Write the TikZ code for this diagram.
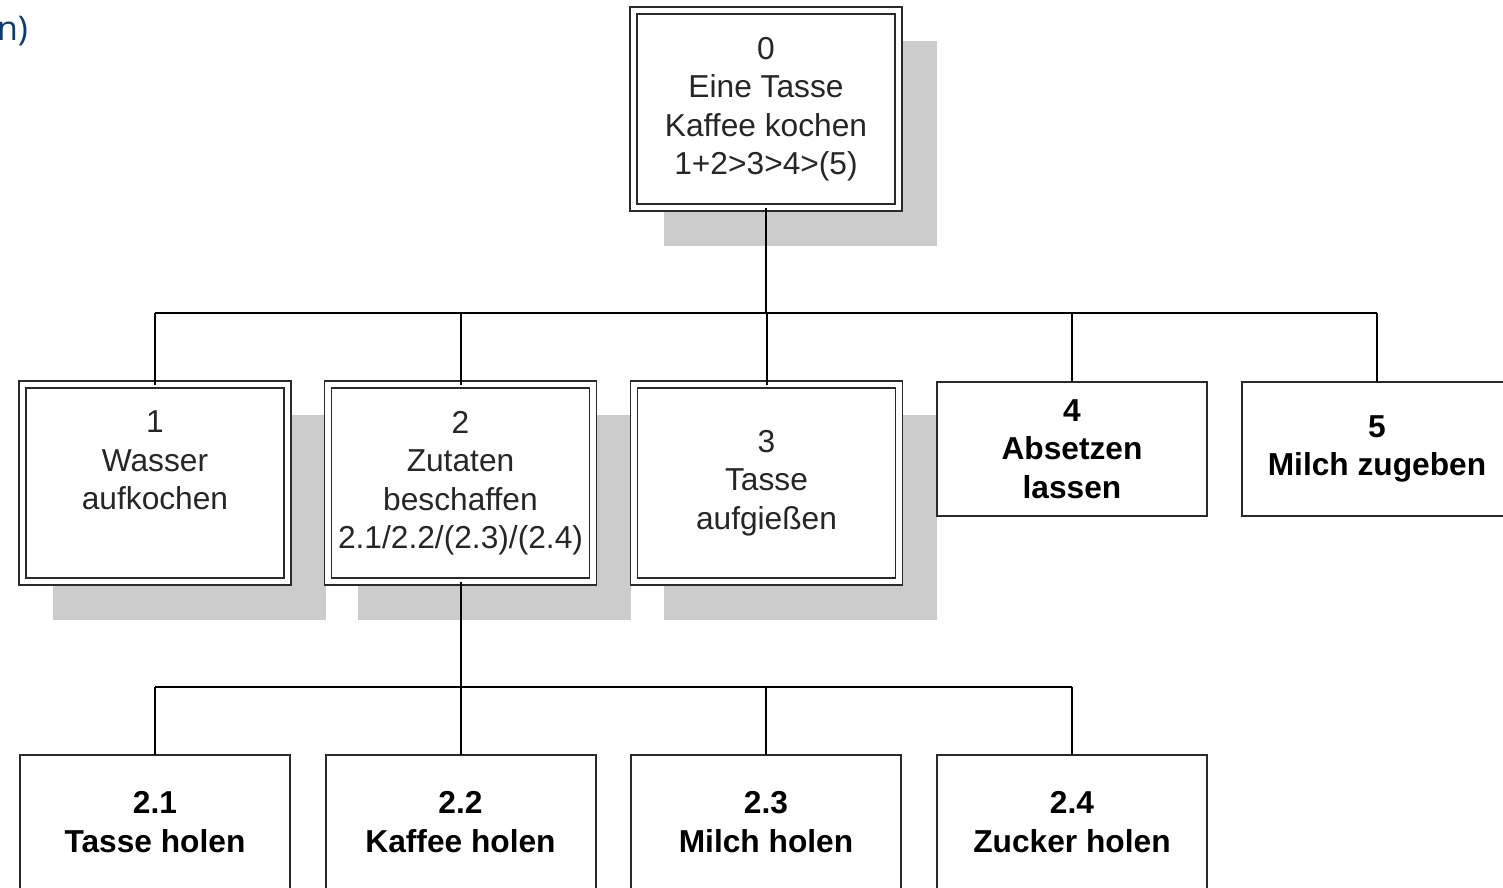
\documentclass[tikz,border=0pt]{standalone}
\usepackage{fontspec}
\setmainfont{Liberation Sans}
\newfontfamily\tagfont{Open Sans}
\usetikzlibrary{backgrounds,calc}
\definecolor{inkline}{HTML}{2A2A2A}
\definecolor{shadowgray}{HTML}{CCCCCC}
\definecolor{textgray}{HTML}{262626}
\definecolor{tagblue}{HTML}{0B3C6E}
\begin{document}
\begin{tikzpicture}[x=1pt,y=-1pt,
  every node/.style={font=\fontsize{31.7}{38.5}\selectfont, text=textgray,
    align=center, inner sep=0pt, outer sep=0pt},
  dbox/.style={draw=inkline, line width=1.8pt, double=white,
    double distance=5.2pt, fill=white,
    minimum width=265pt, minimum height=197pt},
  sbox/.style={draw=inkline, line width=2pt, fill=white,
    minimum width=270pt, minimum height=134pt,
    font=\fontsize{31.7}{38.5}\selectfont\bfseries, text=black},
  link/.style={draw=black, line width=2pt}]

\clip (0,0) rectangle (1503,887);

% caption fragment in the top left corner
\node[font=\tagfont\fontsize{34}{40}\selectfont, text=tagblue, anchor=east]
  (tag) at (28,31) {n)};

% root task
\node[dbox] (n0) at (766,109) {0\\Eine Tasse\\Kaffee kochen\\1+2>3>4>(5)};

% first level
\node[dbox] (n1) at (155,483)   {1\\Wasser\\aufkochen\\\vphantom{(}};
\node[dbox] (n2) at (460.5,483) {2\\Zutaten\\beschaffen\\2.1/2.2/(2.3)/(2.4)};
\node[dbox] (n3) at (766.5,483) {3\\Tasse\\aufgießen};
\node[sbox] (n4) at (1072,449)  {4\\Absetzen\\lassen};
\node[sbox] (n5) at (1377,449)  {5\\Milch zugeben};

% second level below task 2
\node[sbox] (m1) at (155,822)   {2.1\\Tasse holen};
\node[sbox] (m2) at (460.5,822) {2.2\\Kaffee holen};
\node[sbox] (m3) at (766,822)   {2.3\\Milch holen};
\node[sbox] (m4) at (1072,822)  {2.4\\Zucker holen};

% drop shadows behind the composite tasks
\begin{scope}[on background layer]
  \foreach \n in {n0,n1,n2,n3}
    \fill[shadowgray] ([shift={(30,30)}]\n.north west)
                      rectangle ([shift={(38,38)}]\n.south east);
\end{scope}

% connectors root -> first level
\coordinate (busA) at ($(n0.south)+(0,105.5)$);
\draw[link] (n0.south) -- (busA);
\draw[link] (busA -| n1.north) -- (busA -| n5.north);
\foreach \c in {n1,n2,n3,n4,n5}
  \draw[link] (busA -| \c.north) -- (\c.north);

% connectors task 2 -> second level
\coordinate (busB) at ($(n2.south)+(0,105.5)$);
\draw[link] (n2.south) -- (busB);
\draw[link] (busB -| m1.north) -- (busB -| m4.north);
\foreach \c in {m1,m2,m3,m4}
  \draw[link] (busB -| \c.north) -- (\c.north);
\end{tikzpicture}
\end{document}
